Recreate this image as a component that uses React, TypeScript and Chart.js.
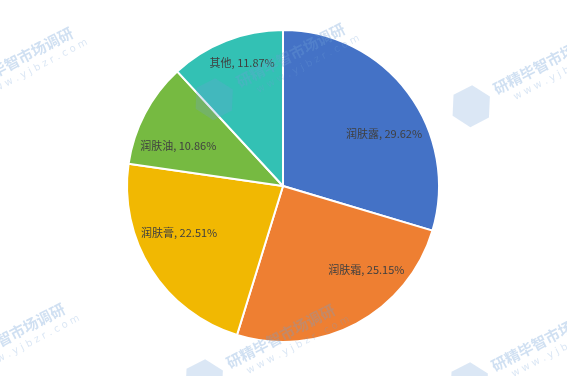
import React, { useEffect, useRef } from "react";
import { Chart, registerables } from "chart.js";

Chart.register(...registerables);

const categories = ["润肤露", "润肤霜", "润肤膏", "润肤油", "其他"];
const shares = [29.62, 25.15, 22.51, 10.86, 11.87];
const colors = ["#4472C6", "#EE7F32", "#F1B802", "#76BA41", "#33C1B4"];
// label placement within each slice (fraction of its sweep, fraction of radius)
const labelSweep = [0.586, 0.317, 0.6, 0.33, 0.57];
const labelRadius = [0.73, 0.76, 0.73, 0.72, 0.83];

const watermarkPlugin = {
  id: "watermark",
  afterDraw(chart: any) {
    const ctx = chart.ctx;
    const spots = [
      [-32, 92], [240, 88], [497, 95],
      [-40, 368], [230, 369], [495, 372],
    ];
    ctx.save();
    for (const [x, y] of spots) {
      ctx.save();
      ctx.translate(x, y);
      ctx.rotate(-0.48);
      // logo hexagon
      ctx.fillStyle = "rgba(110,160,215,0.25)";
      ctx.beginPath();
      for (let i = 0; i < 6; i++) {
        const a = (i * Math.PI) / 3;
        const px = -28 + 21 * Math.cos(a);
        const py = -2 + 21 * Math.sin(a);
        if (i === 0) ctx.moveTo(px, py);
        else ctx.lineTo(px, py);
      }
      ctx.closePath();
      ctx.fill();
      ctx.fillStyle = "rgba(110,160,215,0.32)";
      ctx.font = "bold 15px 'Noto Sans CJK SC'";
      ctx.textBaseline = "alphabetic";
      ctx.fillText("研精毕智市场调研", 0, 0);
      ctx.fillStyle = "rgba(110,160,215,0.25)";
      ctx.font = "10px 'DejaVu Sans'";
      ctx.fillText("w w w . y j b z r . c o m", 14, 13);
      ctx.restore();
    }
    ctx.restore();
  },
};

const labelPlugin = {
  id: "sliceLabels",
  afterDatasetsDraw(chart: any) {
    const ctx = chart.ctx;
    const meta = chart.getDatasetMeta(0);
    ctx.save();
    ctx.font = "11px 'Noto Sans CJK SC'";
    ctx.fillStyle = "#404040";
    ctx.textAlign = "center";
    ctx.textBaseline = "middle";
    meta.data.forEach((arc: any, i: number) => {
      const { x, y, startAngle, endAngle, outerRadius } = arc.getProps(
        ["x", "y", "startAngle", "endAngle", "outerRadius"],
        true
      );
      const a = startAngle + labelSweep[i] * (endAngle - startAngle);
      const r = labelRadius[i] * outerRadius;
      const text = `${categories[i]}, ${shares[i].toFixed(2)}%`;
      ctx.fillText(text, x + r * Math.cos(a), y + r * Math.sin(a));
    });
    ctx.restore();
  },
};

export default function App() {
  const ref = useRef<HTMLCanvasElement>(null);
  useEffect(() => {
    document.body.style.margin = "0";
    const chart = new Chart(ref.current as HTMLCanvasElement, {
      type: "pie",
      data: {
        labels: categories,
        datasets: [
          {
            data: shares,
            backgroundColor: colors,
            borderColor: "#ffffff",
            borderWidth: 2,
          },
        ],
      },
      options: {
        responsive: false,
        animation: false,
        layout: { padding: { top: 29, bottom: 33, left: 0, right: 1 } },
        plugins: {
          legend: { display: false },
          tooltip: { enabled: false },
        },
      },
      plugins: [labelPlugin, watermarkPlugin],
    });
    return () => chart.destroy();
  }, []);
  return (
    <div style={{ position: "absolute", left: 0, top: 0, width: 567, height: 376, background: "#fff" }}>
      <canvas ref={ref} width={567} height={376} />
    </div>
  );
}
